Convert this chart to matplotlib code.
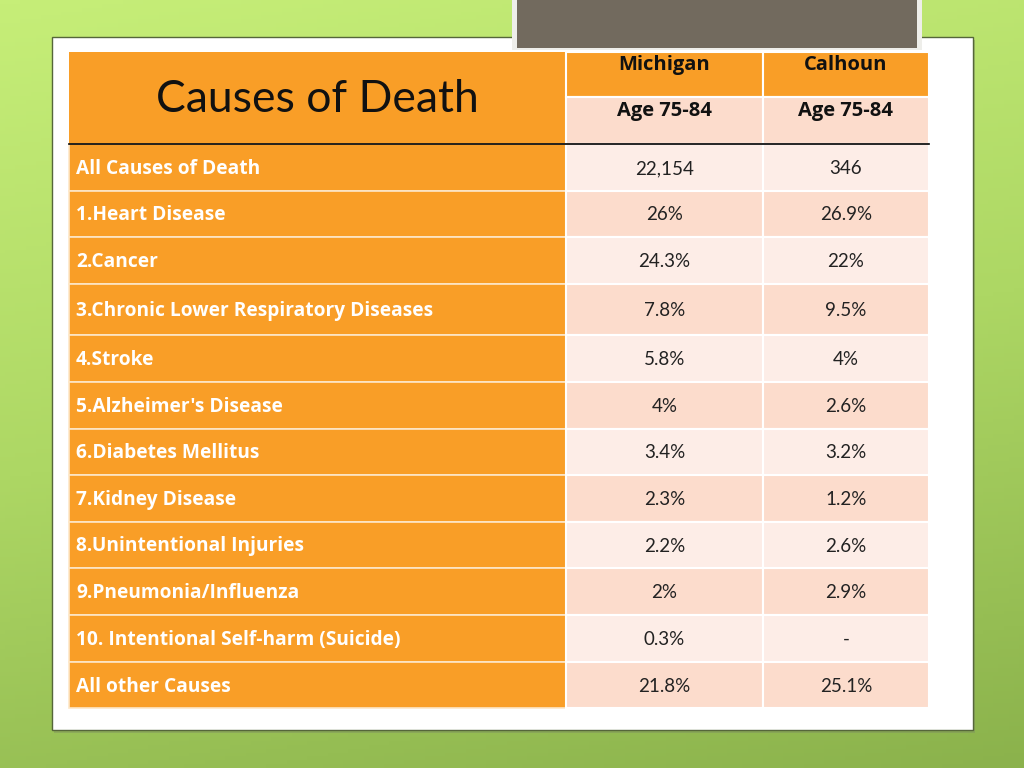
import matplotlib.pyplot as plt
import numpy as np
from matplotlib.patches import Rectangle
from matplotlib.colors import LinearSegmentedColormap

title = "Causes of Death"
regions = ["Michigan", "Calhoun"]
age_groups = ["Age 75-84", "Age 75-84"]
causes = [
    "All Causes of Death",
    "1.Heart Disease",
    "2.Cancer",
    "3.Chronic Lower Respiratory Diseases",
    "4.Stroke",
    "5.Alzheimer's Disease",
    "6.Diabetes Mellitus",
    "7.Kidney Disease",
    "8.Unintentional Injuries",
    "9.Pneumonia/Influenza",
    "10. Intentional Self-harm (Suicide)",
    "All other Causes",
]
michigan = ["22,154", "26%", "24.3%", "7.8%", "5.8%", "4%", "3.4%", "2.3%",
            "2.2%", "2%", "0.3%", "21.8%"]
calhoun = ["346", "26.9%", "22%", "9.5%", "4%", "2.6%", "3.2%", "1.2%",
           "2.6%", "2.9%", "-", "25.1%"]

ORANGE = "#f99e27"
PEACH = "#fcdccc"
LIGHT = "#fdede7"
FONT = "Lato"
BOLD = "Open Sans"

fig = plt.figure(figsize=(10.24, 7.68), dpi=100)
ax = fig.add_axes([0, 0, 1, 1])
ax.set_xlim(0, 1024)
ax.set_ylim(768, 0)
ax.axis("off")

# green slide background
yy, xx = np.mgrid[0:1:200j, 0:1:200j]
grad = 0.8 * yy + 0.2 * xx
cmap = LinearSegmentedColormap.from_list("g", ["#c6ee78", "#add764", "#8bb24c"])
ax.imshow(grad, cmap=cmap, extent=(0, 1024, 768, 0), aspect="auto", zorder=0)

# white panel
ax.add_patch(Rectangle((54, 40), 921, 693, facecolor="#7a8a60", alpha=0.4, zorder=1))
ax.add_patch(Rectangle((52, 37), 921, 693, facecolor="white", edgecolor="#55663a",
                       lw=1.0, zorder=2))

# grey box at top
ax.add_patch(Rectangle((512, -2), 410, 52, facecolor="#eeeeea", zorder=3))
ax.add_patch(Rectangle((517, -2), 400, 50, facecolor="#726a5e", zorder=3))

# table geometry
x0, x1, x2, x3 = 69, 566, 763, 929
h0, h1, h2 = 52, 97, 144
row_edges = [144, 191, 237, 284, 335, 382, 429, 475, 522, 568, 615, 662, 708]
cols = [(x1, x2), (x2, x3)]

# header
ax.add_patch(Rectangle((x0, h0), x1 - x0, h2 - h0, facecolor=ORANGE, zorder=4))
ax.text((x0 + x1) / 2, 100, title, ha="center", va="center", fontsize=32,
        family=FONT, color="#111111", zorder=6)
for (a, b), reg, age in zip(cols, regions, age_groups):
    ax.add_patch(Rectangle((a, h0), b - a, h1 - h0, facecolor=ORANGE,
                           edgecolor="white", lw=1.5, zorder=4))
    ax.add_patch(Rectangle((a, h1), b - a, h2 - h1, facecolor=PEACH,
                           edgecolor="white", lw=1.5, zorder=4))
    ax.text((a + b) / 2, 65, reg, ha="center", va="center", fontsize=14.5,
            family=BOLD, weight="bold", color="#111111", zorder=6)
    ax.text((a + b) / 2, 111, age, ha="center", va="center", fontsize=14.5,
            family=BOLD, weight="bold", color="#111111", zorder=6)

# body rows
for i, (cause, mi, ca) in enumerate(zip(causes, michigan, calhoun)):
    top, bot = row_edges[i], row_edges[i + 1]
    mid = (top + bot) / 2
    ax.add_patch(Rectangle((x0, top), x1 - x0, bot - top, facecolor=ORANGE,
                           edgecolor="#fde7c8", lw=1.2, zorder=4))
    ax.text(x0 + 7, mid + 1.5, cause, ha="left", va="center", fontsize=13.8,
            family=BOLD, weight="bold", color="white", zorder=6)
    fill = PEACH if i % 2 else LIGHT
    for (a, b), val in zip(cols, (mi, ca)):
        ax.add_patch(Rectangle((a, top), b - a, bot - top, facecolor=fill,
                               edgecolor="white", lw=1.5, zorder=4))
        ax.text((a + b) / 2, mid + 1, val, ha="center", va="center", fontsize=13.5,
                family=FONT, color="#222222", zorder=6)

ax.plot([x0, x3], [h2, h2], color="black", lw=1.2, zorder=7)

fig.savefig("out.png", dpi=100)
